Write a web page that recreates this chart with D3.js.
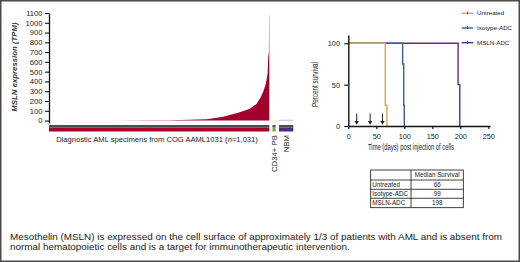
<!DOCTYPE html>
<html>
<head>
<meta charset="utf-8">
<script src="https://cdn.jsdelivr.net/npm/d3@7"></script>
<style>
  html, body { margin: 0; padding: 0; background: #fff; }
  svg { display: block; font-family: "Liberation Sans", Arial, Helvetica, sans-serif; }
  .axis path, .axis line { stroke: #111; }
  .axis text { fill: #222; }
</style>
</head>
<body>
<div id="chart"></div>
<script>
/* MSLN expression waterfall + survival curves, graphical abstract */

// left panel: MSLN expression, 1,031 AML specimens sorted (rank, TPM)
const amlRank = [0, 300, 470, 560, 660, 737, 815, 893, 940, 971, 987, 1002, 1015, 1023, 1026, 1029, 1030, 1031];
const amlTPM  = [0, 1, 2, 4, 7, 13, 40, 85, 120, 170, 223, 291, 377, 480, 650, 700, 1080, 1080];
const amlN = 1031;
const nbmTPM = 3;
const exprTicks = [0, 100, 200, 300, 400, 500, 600, 700, 800, 900, 1000, 1100];
const groupNames = ["Diagnostic AML specimens from COG AAML1031", "CD34+ PB", "NBM"];
const groupColors = ["#a3002b", "#5fae3a", "#4b2a80"];

// right panel: survival
const seriesNames = ["Untreated", "Isotype-ADC", "MSLN-ADC"];
const seriesColors = ["#e9a23b", "#3d5b9c", "#5e2d83"];
const untreatedDays = [0, 66, 69],       untreatedSurv = [100, 25, 0];
const isotypeDays   = [0, 97, 99, 100],  isotypeSurv   = [100, 75, 25, 0];
const mslnDays      = [0, 196, 199],     mslnSurv      = [100, 50, 0];
const doseDays = [15, 39, 61];
const dayTicks = [0, 50, 100, 150, 200, 250];
const survTicks = [0, 50, 100];
const medianSurvival = [66, 99, 198];

const caption = [
  "Mesothelin (MSLN) is expressed on the cell surface of approximately 1/3 of patients with AML and is absent from",
  "normal hematopoietic cells and is a target for immunotherapeutic intervention."
];

const W = 520, H = 262;
const svg = d3.select("#chart").append("svg").attr("width", W).attr("height", H);

svg.append("rect").attr("x", 0.75).attr("y", 0.75).attr("width", W - 1.5).attr("height", H - 1.5)
  .attr("fill", "#fff").attr("stroke", "#4a4a4a").attr("stroke-width", 1.5);

/* ---------- left: expression ---------- */
const xL = d3.scaleLinear().domain([0, amlN]).range([49, 269.3]);
const yL = d3.scaleLinear().domain([-25, 1100]).range([123, 13]);
const pts = amlRank.map((r, i) => [r, amlTPM[i]]);

svg.append("path").datum(pts)
  .attr("d", d3.area().x(d => xL(d[0])).y0(yL(0)).y1(d => yL(d[1])))
  .attr("fill", groupColors[0]);

// NBM low values
svg.append("line").attr("x1", 279).attr("x2", 293.3).attr("y1", yL(nbmTPM)).attr("y2", yL(nbmTPM))
  .attr("stroke", "#b6a8d6").attr("stroke-width", 0.8);

const gL = svg.append("g").attr("class", "axis").attr("transform", `translate(${xL(0)},0)`)
  .call(d3.axisLeft(yL).tickValues(exprTicks).tickFormat(d3.format("d"))
    .tickSize(4).tickSizeOuter(0).tickPadding(2.5));
gL.select(".domain").attr("stroke-width", 1.3);
gL.selectAll(".tick line").attr("stroke-width", 1.1);
gL.selectAll("text").style("font-size", "7.6px");

svg.append("text").attr("transform", "translate(16.5,67) rotate(-90)")
  .attr("text-anchor", "middle").style("font-size", "7.8px").style("font-style", "italic")
  .style("font-weight", "bold").attr("fill", "#333").text("MSLN expression (TPM)");

// group bars
const spans = [[49, 269.3], [272.5, 275.5], [279, 293.3]];
spans.forEach((s, i) => {
  svg.append("rect").attr("x", s[0]).attr("y", 125).attr("width", s[1] - s[0]).attr("height", 2.5).attr("fill", "#4d4d4d");
  svg.append("rect").attr("x", s[0]).attr("y", 127.5).attr("width", s[1] - s[0]).attr("height", 4).attr("fill", groupColors[i]);
});

const xlab = svg.append("text").attr("x", 157).attr("y", 142).attr("text-anchor", "middle")
  .style("font-size", "7.6px").attr("fill", "#222");
xlab.append("tspan").text(groupNames[0] + " (");
xlab.append("tspan").style("font-style", "italic").text("n");
xlab.append("tspan").text("=1,031)");

[[274.2, groupNames[1]], [286.4, groupNames[2]]].forEach(([x, t]) => {
  svg.append("text").attr("transform", `translate(${x + 2.6},135) rotate(-90)`)
    .attr("text-anchor", "end").style("font-size", "7.8px").attr("fill", "#222").text(t);
});

/* ---------- right: survival ---------- */
const xR = d3.scaleLinear().domain([0, 253]).range([348.3, 490]);
const yR = d3.scaleLinear().domain([0, 110]).range([126, 35]);

const series = [
  { d: mslnDays, s: mslnSurv, c: seriesColors[2] },
  { d: isotypeDays, s: isotypeSurv, c: seriesColors[1] },
  { d: untreatedDays, s: untreatedSurv, c: seriesColors[0] }
];
const step = d3.line().curve(d3.curveStepAfter).x(d => xR(d[0])).y(d => yR(d[1]));
series.forEach(se => {
  svg.append("path").datum(se.d.map((t, i) => [t, se.s[i]])).attr("d", step)
    .attr("fill", "none").attr("stroke", se.c).attr("stroke-width", 1.4);
});

const gx = svg.append("g").attr("class", "axis").attr("transform", `translate(0,${yR(0)})`)
  .call(d3.axisBottom(xR).tickValues(dayTicks).tickSize(3).tickSizeOuter(0).tickPadding(4.5));
const gy = svg.append("g").attr("class", "axis").attr("transform", `translate(${xR(0)},0)`)
  .call(d3.axisLeft(yR).tickValues(survTicks).tickSize(4).tickSizeOuter(0).tickPadding(4.3));
[gx, gy].forEach(g => {
  g.select(".domain").attr("stroke-width", 1.4);
  g.selectAll(".tick line").attr("stroke-width", 1.2);
  g.selectAll("text").style("font-size", "7.4px");
});

// dosing arrows
doseDays.forEach(t => {
  const x = xR(t), y0 = yR(0);
  svg.append("line").attr("x1", x).attr("x2", x).attr("y1", y0 - 12.5).attr("y2", y0 - 4)
    .attr("stroke", "#222").attr("stroke-width", 1);
  svg.append("path").attr("d", `M${x - 2.2},${y0 - 5}L${x + 2.2},${y0 - 5}L${x},${y0 - 1.2}Z`).attr("fill", "#222");
});

svg.append("text").attr("transform", "translate(317.8,84.5) rotate(-90)").attr("text-anchor", "middle")
  .attr("textLength", 45).attr("lengthAdjust", "spacingAndGlyphs")
  .style("font-size", "9px").attr("fill", "#222").text("Percent survival");
svg.append("text").attr("x", 411).attr("y", 150).attr("text-anchor", "middle")
  .attr("textLength", 86).attr("lengthAdjust", "spacingAndGlyphs")
  .style("font-size", "9px").attr("fill", "#222").text("Time (days) post injection of cells");

// legend
seriesNames.forEach((n, i) => {
  const y = 13.3 + i * 14.7;
  svg.append("line").attr("x1", 461.7).attr("x2", 473.3).attr("y1", y).attr("y2", y)
    .attr("stroke", seriesColors[i]).attr("stroke-width", 1.4);
  svg.append("line").attr("x1", 467.5).attr("x2", 467.5).attr("y1", y - 2).attr("y2", y + 1)
    .attr("stroke", "#333").attr("stroke-width", 0.8);
  svg.append("text").attr("x", 477).attr("y", y + 2.1).style("font-size", "6.2px").attr("fill", "#222").text(n);
});

// median survival table
const colX = [370.7, 411, 463.3], rowY = [170, 180, 189.3, 198.3, 207.7];
const tbl = svg.append("g");
tbl.append("rect").attr("x", colX[0]).attr("y", rowY[0]).attr("width", colX[2] - colX[0])
  .attr("height", rowY[4] - rowY[0]).attr("fill", "none").attr("stroke", "#111").attr("stroke-width", 0.8);
tbl.append("line").attr("x1", colX[1]).attr("x2", colX[1]).attr("y1", rowY[0]).attr("y2", rowY[4])
  .attr("stroke", "#111").attr("stroke-width", 0.8);
rowY.slice(1, 4).forEach(y => tbl.append("line").attr("x1", colX[0]).attr("x2", colX[2])
  .attr("y1", y).attr("y2", y).attr("stroke", "#111").attr("stroke-width", 0.8));
tbl.append("text").attr("x", (colX[1] + colX[2]) / 2).attr("y", (rowY[0] + rowY[1]) / 2 + 2.2)
  .attr("text-anchor", "middle").style("font-size", "6.3px").attr("fill", "#222").text("Median Survival");
seriesNames.forEach((n, i) => {
  const cy = (rowY[i + 1] + rowY[i + 2]) / 2 + 2.2;
  tbl.append("text").attr("x", colX[0] + 1.6).attr("y", cy).style("font-size", "6.3px").attr("fill", "#222").text(n);
  tbl.append("text").attr("x", (colX[1] + colX[2]) / 2).attr("y", cy).attr("text-anchor", "middle")
    .style("font-size", "6.3px").attr("fill", "#222").text(medianSurvival[i]);
});

// caption
caption.forEach((c, i) => {
  svg.append("text").attr("x", 10).attr("y", 239.6 + i * 10.7).style("font-size", "9.9px")
    .attr("fill", "#1a1a1a").text(c);
});
</script>
</body>
</html>
